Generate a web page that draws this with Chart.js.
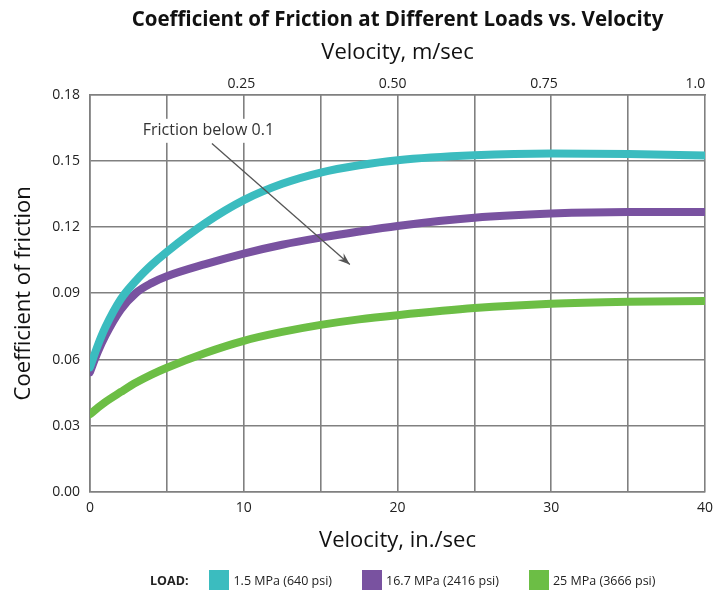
<!DOCTYPE html>
<html>
<head>
<meta charset="utf-8">
<script src="https://cdn.jsdelivr.net/npm/chart.js@4.4.0/dist/chart.umd.min.js"></script>
<style>
  body { margin: 0; background: #fff; }
  #wrap { position: relative; width: 725px; height: 594px; }
  #legend { position: absolute; left: 150px; top: 570px; display: flex; align-items: center;
            font-family: "Open Sans", sans-serif; font-size: 12.5px; color: #222; }
  #legend .lbl { font-weight: bold; margin-right: 21px; }
  #legend .box { width: 20px; height: 20px; margin-right: 4px; }
  #legend .item { display: flex; align-items: center; margin-right: 30px; }
</style>
</head>
<body>
<div id="wrap">
  <canvas id="myChart" width="725" height="594"></canvas>
  <div id="legend"></div>
</div>
<script>
// velocity, in./sec
const velocity = [0, 0.5, 1, 2, 3, 4, 5, 7.5, 10, 12.5, 15, 17.5, 20, 25, 30, 35, 40];
// coefficient of friction per load
const load15 = [0.0565, 0.0663, 0.0746, 0.0873, 0.0958, 0.1028, 0.1088, 0.1218, 0.1322, 0.1396, 0.1447, 0.148, 0.1503, 0.1525, 0.1533, 0.1531, 0.1524];
const load167 = [0.0543, 0.0633, 0.0708, 0.0826, 0.0902, 0.0946, 0.0977, 0.1032, 0.108, 0.112, 0.1152, 0.118, 0.1205, 0.1242, 0.1261, 0.1268, 0.1268];
const load25 = [0.0352, 0.0381, 0.0408, 0.0453, 0.0496, 0.0532, 0.0563, 0.063, 0.0685, 0.0725, 0.0757, 0.0782, 0.0801, 0.0833, 0.0853, 0.0862, 0.0865];
const seriesNames = ['1.5 MPa (640 psi)', '16.7 MPa (2416 psi)', '25 MPa (3666 psi)'];
const seriesColors = ['#3bbcbf', '#7952a0', '#6cbe45'];
const topTicks = [0.25, 0.5, 0.75, 1.0];
const topTickLabels = ['0.25', '0.50', '0.75', '1.0'];
const inPerMeter = 39.37;

const font = '"Open Sans", sans-serif';
const gridColor = '#808080';

function pts(ys) {
    return velocity.map((v, i) => ({ x: v, y: ys[i] }));
}

// note: arrow + label "Friction below 0.1", placed in data units
const note = { text: 'Friction below 0.1', tx: 7.7, ty: 0.1636, x1: 7.93, y1: 0.1578, x2: 16.9, y2: 0.103 };

const notePlugin = {
    id: 'note',
    afterDatasetsDraw(chart) {
        const c = chart.ctx, xs = chart.scales.x, ys = chart.scales.y;
        c.save();
        c.font = '16px ' + font;
        c.textAlign = 'center';
        c.textBaseline = 'middle';
        const tx = xs.getPixelForValue(note.tx), ty = ys.getPixelForValue(note.ty);
        const w = c.measureText(note.text).width;
        c.fillStyle = '#fff';
        c.fillRect(tx - w / 2 - 4, ty - 12, w + 8, 24);
        c.fillStyle = '#333';
        c.fillText(note.text, tx, ty);
        const ax = xs.getPixelForValue(note.x1), ay = ys.getPixelForValue(note.y1);
        const bx = xs.getPixelForValue(note.x2), by = ys.getPixelForValue(note.y2);
        c.strokeStyle = '#555';
        c.lineWidth = 1.3;
        c.beginPath();
        c.moveTo(ax, ay);
        c.lineTo(bx, by);
        c.stroke();
        const ang = Math.atan2(by - ay, bx - ax);
        c.fillStyle = '#555';
        c.beginPath();
        c.moveTo(bx, by);
        c.lineTo(bx - 13 * Math.cos(ang - 0.35), by - 13 * Math.sin(ang - 0.35));
        c.lineTo(bx - 8 * Math.cos(ang), by - 8 * Math.sin(ang));
        c.lineTo(bx - 13 * Math.cos(ang + 0.35), by - 13 * Math.sin(ang + 0.35));
        c.closePath();
        c.fill();
        c.restore();
    }
};

const ctx = document.getElementById('myChart').getContext('2d');
const myChart = new Chart(ctx, {
    type: 'line',
    data: {
        datasets: [load15, load167, load25].map((d, i) => ({
            label: seriesNames[i],
            data: pts(d),
            borderColor: seriesColors[i],
            backgroundColor: seriesColors[i],
            borderWidth: 8,
            borderCapStyle: 'round',
            borderJoinStyle: 'round',
            pointRadius: 0,
            cubicInterpolationMode: 'monotone',
            fill: false,
            xAxisID: 'x',
            yAxisID: 'y'
        }))
    },
    options: {
        responsive: false,
        animation: false,
        layout: { padding: { left: 0, right: 20, top: 0, bottom: 40 } },
        plugins: {
            legend: { display: false },
            tooltip: { enabled: false },
            title: {
                display: true,
                fullSize: false,
                text: 'Coefficient of Friction at Different Loads vs. Velocity',
                font: { family: font, size: 20.5, weight: 'bold' },
                color: '#111',
                padding: { top: 8, bottom: 0 }
            }
        },
        scales: {
            x: {
                type: 'linear',
                position: 'bottom',
                min: 0, max: 40,
                ticks: {
                    stepSize: 5,
                    padding: 8,
                    color: '#222',
                    font: { family: font, size: 14 },
                    callback: v => (v % 10 === 0 ? String(v) : '')
                },
                grid: { color: gridColor, lineWidth: 1.6, drawTicks: false },
                border: { color: gridColor, width: 1.6 },
                title: { display: true, text: 'Velocity, in./sec', color: '#111',
                         font: { family: font, size: 22 }, padding: { top: 2, bottom: 0 } },
                afterFit: s => { s.height = 62; }
            },
            x2: {
                type: 'linear',
                position: 'top',
                min: 0, max: 40 / inPerMeter,
                afterBuildTicks: s => { s.ticks = topTicks.map(v => ({ value: v })); },
                ticks: {
                    padding: 2,
                    color: '#222',
                    font: { family: font, size: 14 },
                    callback: (v, i) => topTickLabels[i]
                },
                grid: { display: false, drawTicks: false },
                border: { color: gridColor, width: 1.6 },
                title: { display: true, text: 'Velocity, m/sec', color: '#111',
                         font: { family: font, size: 22 }, padding: { top: 7, bottom: 0 } },
                afterFit: s => { s.height = 62; }
            },
            y: {
                min: 0, max: 0.18,
                ticks: {
                    stepSize: 0.03,
                    padding: 10,
                    color: '#222',
                    font: { family: font, size: 14 },
                    callback: v => v.toFixed(2)
                },
                grid: { color: gridColor, lineWidth: 1.6, drawTicks: false },
                border: { color: gridColor, width: 1.6 },
                title: { display: true, text: 'Coefficient of friction', color: '#111',
                         font: { family: font, size: 22 }, padding: { top: 11, bottom: 0 } },
                afterFit: s => { s.width = 90; }
            }
        }
    },
    plugins: [notePlugin]
});

// legend in html
const leg = document.getElementById('legend');
leg.innerHTML = '<span class="lbl">LOAD:</span>' + seriesNames.map((n, i) =>
    '<span class="item"><span class="box" style="background:' + seriesColors[i] + '"></span>' + n + '</span>').join('');
</script>
</body>
</html>
